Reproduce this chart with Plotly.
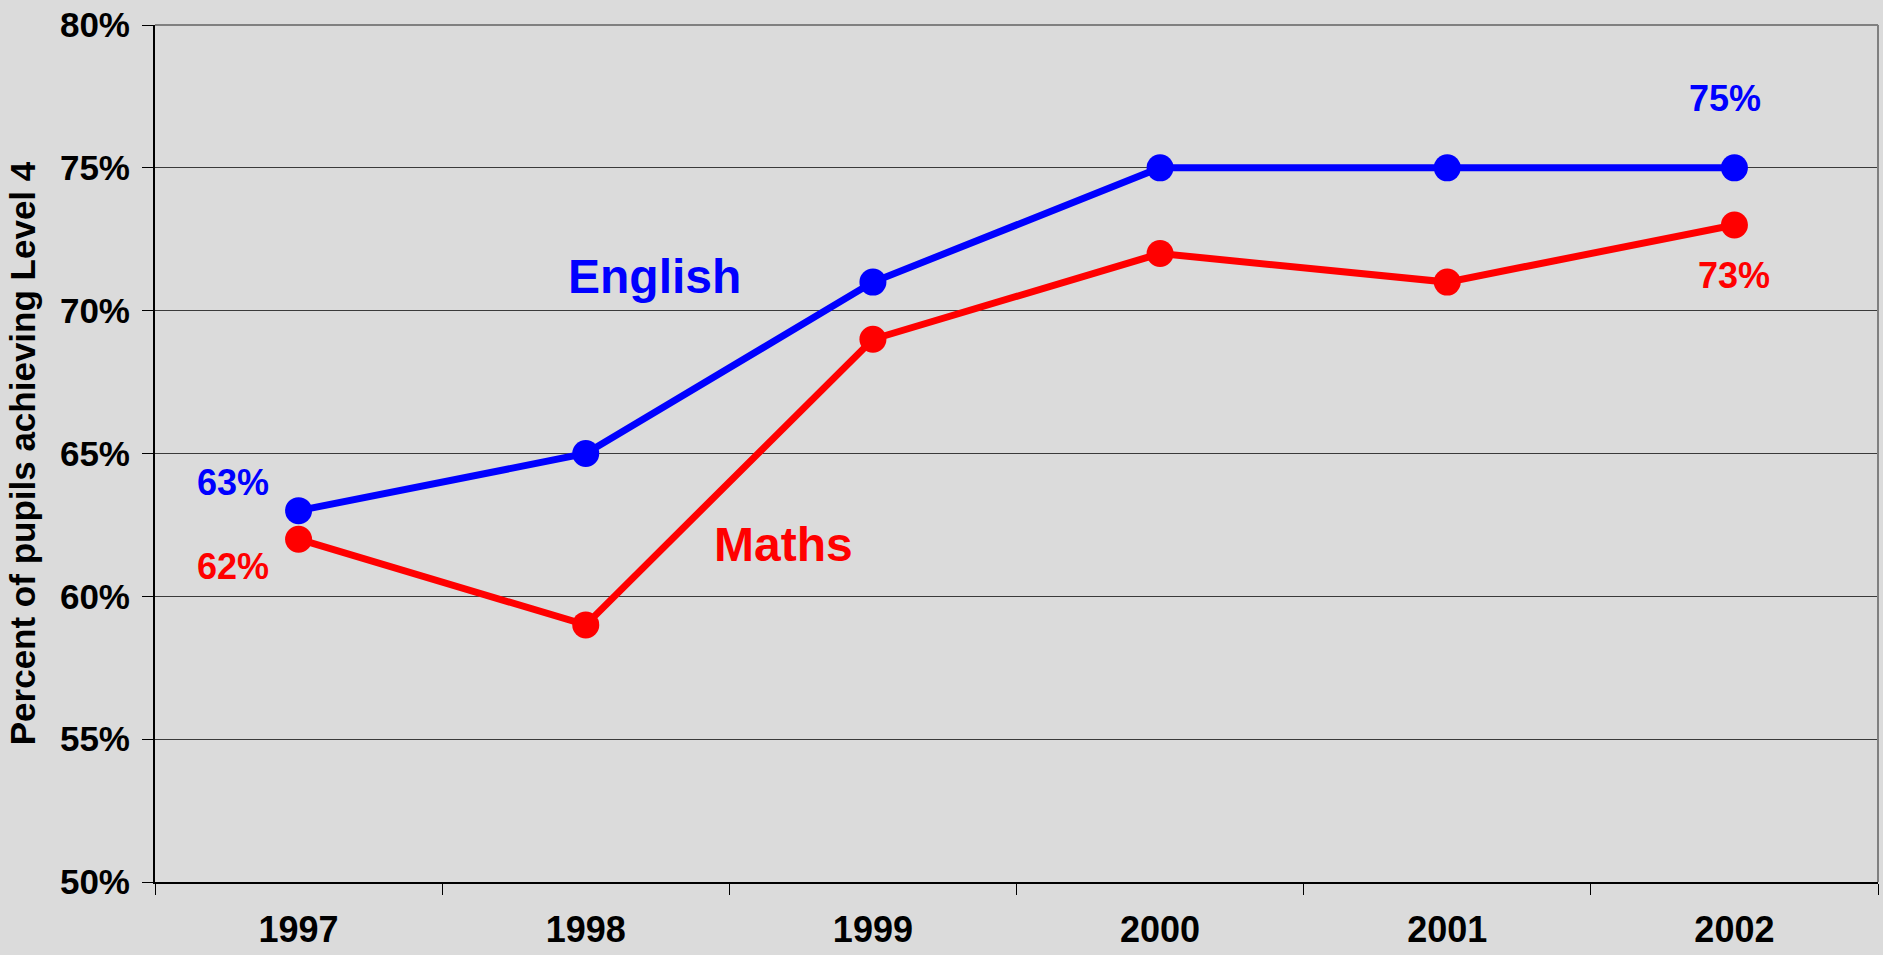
import plotly.graph_objects as go

years = ["1997", "1998", "1999", "2000", "2001", "2002"]
english = [63, 65, 71, 75, 75, 75]
maths = [62, 59, 69, 72, 71, 73]
y_ticks = [50, 55, 60, 65, 70, 75, 80]
y_tick_labels = [f"{v}%" for v in y_ticks]

BLUE = "#0000FF"
RED = "#FF0000"
BG = "#DBDBDB"
FONT = "Liberation Sans, Arial, sans-serif"

fig = go.Figure()
fig.add_trace(go.Scatter(
    x=years, y=english, mode="lines+markers", name="English",
    line=dict(color=BLUE, width=7),
    marker=dict(color=BLUE, size=27),
))
fig.add_trace(go.Scatter(
    x=years, y=maths, mode="lines+markers", name="Maths",
    line=dict(color=RED, width=7),
    marker=dict(color=RED, size=27),
))

first, last = 0, len(years) - 1  # category indices of the end points
annotations = [
    # series names
    dict(x=1.24, y=71.2, text="<b>English</b>", font=dict(family=FONT, size=48, color=BLUE)),
    dict(x=1.69, y=61.8, text="<b>Maths</b>", font=dict(family=FONT, size=48, color=RED)),
    # first and last values
    dict(x=first, y=english[first], text=f"<b>{english[first]}%</b>", xshift=-66, yshift=28,
         font=dict(family=FONT, size=36, color=BLUE)),
    dict(x=first, y=maths[first], text=f"<b>{maths[first]}%</b>", xshift=-66, yshift=-27,
         font=dict(family=FONT, size=36, color=RED)),
    dict(x=last, y=english[last], text=f"<b>{english[last]}%</b>", xshift=-9, yshift=69,
         font=dict(family=FONT, size=36, color=BLUE)),
    dict(x=last, y=maths[last], text=f"<b>{maths[last]}%</b>", xshift=0, yshift=-51,
         font=dict(family=FONT, size=36, color=RED)),
]
for a in annotations:
    a.update(showarrow=False, xanchor="center", yanchor="middle")

fig.update_layout(
    width=1883, height=955,
    margin=dict(l=155, r=5, t=22, b=71),
    paper_bgcolor=BG, plot_bgcolor=BG,
    showlegend=False,
    font=dict(family=FONT, color="black"),
    annotations=annotations,
    shapes=[
        dict(type="line", xref="paper", yref="paper", x0=0, x1=1, y0=1, y1=1,
             line=dict(color="#808080", width=2)),
        dict(type="line", xref="paper", yref="paper", x0=1, x1=1, y0=0, y1=1,
             line=dict(color="#808080", width=2)),
    ],
)
fig.update_xaxes(
    type="category", range=[-0.5, 5.5],
    tickson="boundaries", ticks="outside", ticklen=11, tickcolor="black", tickwidth=1,
    showline=True, linecolor="black", linewidth=2,
    showgrid=False, zeroline=False,
    tickfont=dict(family=FONT, size=36, color="black"),
    ticklabelstandoff=15,
    tickprefix="<b>", ticksuffix="</b>",
)
fig.update_yaxes(
    range=[50, 80], tickvals=y_ticks, ticktext=[f"<b>{t}</b>" for t in y_tick_labels],
    ticks="outside", ticklen=11, tickcolor="black", tickwidth=1,
    showline=True, linecolor="black", linewidth=2,
    showgrid=True, gridcolor="#3A3A3A", gridwidth=1, zeroline=False,
    tickfont=dict(family=FONT, size=35, color="black"),
    ticklabelstandoff=5,
    title=dict(text="<b>Percent of pupils achieving Level 4</b>",
               font=dict(family=FONT, size=35, color="black"), standoff=14),
)

fig.write_html("out.html")
